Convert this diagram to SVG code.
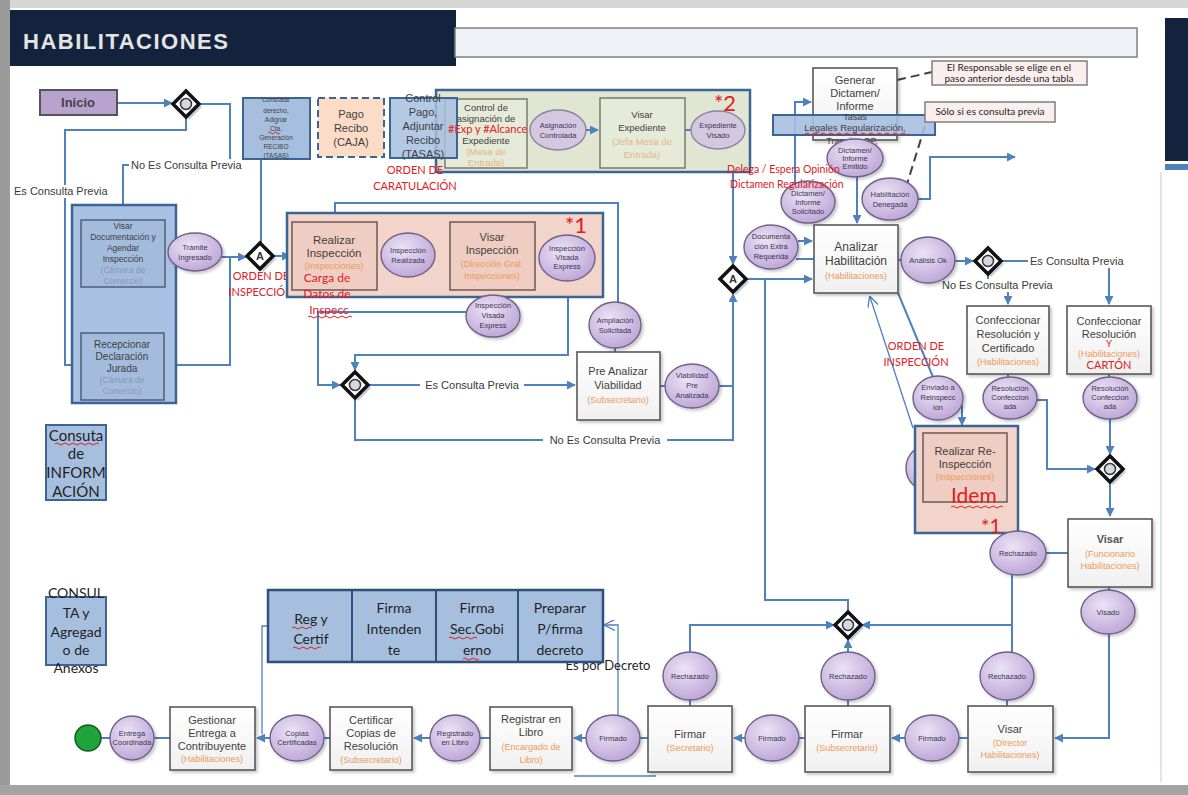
<svg xmlns="http://www.w3.org/2000/svg" width="1188" height="795" viewBox="0 0 1188 795">
<defs>
<style>
.task{fill:url(#gT);stroke:#595959;stroke-width:1.6}
.ev{fill:url(#gE);stroke:#6d6288;stroke-width:1.4}
.evf{fill:#d3c8df;stroke:#8c85a0;stroke-width:1.4}
.tt{font-family:"Liberation Sans",Arial,sans-serif;font-size:11px;fill:#3f3f3f;text-anchor:middle}
.ro{fill:#ec9a5a;font-size:9px}
.et{font-family:"Liberation Sans",Arial,sans-serif;font-size:7.5px;fill:#3a3456;text-anchor:middle}
.c{fill:none;stroke:#4f81bd;stroke-width:2}
.ca{fill:none;stroke:#4f81bd;stroke-width:2;marker-end:url(#ar)}
.thin{fill:none;stroke:#4f81bd;stroke-width:1.3}
.lbl{font-family:"Liberation Sans",Arial,sans-serif;font-size:11px;fill:#3a3a3a}
.red{font-family:Lato,"Open Sans",sans-serif;fill:#e0201e}
.bb{fill:#a7bfdf;stroke:#3b6595;stroke-width:2}
.cal{font-family:Lato,"Open Sans",sans-serif;fill:#1f1f1f;text-anchor:middle}
.dash{fill:none;stroke:#404040;stroke-width:2;stroke-dasharray:9 5}
.sq{fill:none;stroke:#e0201e;stroke-width:1}
</style>
<linearGradient id="gT" x1="0" y1="0" x2="0" y2="1"><stop offset="0" stop-color="#ffffff"/><stop offset="1" stop-color="#f0f0f0"/></linearGradient>
<radialGradient id="gE" cx="0.4" cy="0.35" r="0.75"><stop offset="0" stop-color="#ece3f5"/><stop offset="1" stop-color="#b99fd4"/></radialGradient>
<marker id="ar" viewBox="0 0 10 10" refX="9" refY="5" markerWidth="9" markerHeight="9" markerUnits="userSpaceOnUse" orient="auto"><path d="M0,0 L10,5 L0,10 z" fill="#4f81bd"/></marker>
<marker id="oa" viewBox="0 0 10 10" refX="9" refY="5" markerWidth="11" markerHeight="11" markerUnits="userSpaceOnUse" orient="auto"><path d="M0,0 L10,5 L0,10" fill="none" stroke="#4f81bd" stroke-width="1.2"/></marker>
<filter id="sh" x="-20%" y="-20%" width="150%" height="150%"><feDropShadow dx="2" dy="2" stdDeviation="1.5" flood-color="#000" flood-opacity="0.22"/></filter>
<g id="gwO"><path d="M3,-10 L16,3 L3,16 L-10,3z" fill="#c5ccd8"/><path d="M0,-13 L13,0 L0,13 L-13,0z" fill="#fff" stroke="#111" stroke-width="3.5"/><circle r="5.5" fill="#d3d9e4" stroke="#333" stroke-width="1.5"/></g>
<g id="gwA"><path d="M3,-10 L16,3 L3,16 L-10,3z" fill="#c5ccd8"/><path d="M0,-13 L13,0 L0,13 L-13,0z" fill="#fff" stroke="#111" stroke-width="3.5"/><text x="0" y="4" font-family="Liberation Sans,Arial,sans-serif" font-size="11" font-weight="bold" fill="#333" text-anchor="middle">A</text></g>
</defs>

<g id="background">
<rect width="1188" height="795" fill="#ffffff"/>
<rect x="0" y="0" width="1188" height="8" fill="#d6d6d6"/>
<rect x="0" y="0" width="10" height="795" fill="#9b9b9b"/>
<rect x="0" y="785" width="1188" height="10" fill="#a3a3a3"/>
<rect x="10" y="10" width="446" height="56" fill="#13233d"/>
<text x="23" y="49" font-family="Liberation Sans,Arial,sans-serif" font-size="22" font-weight="bold" fill="#e4e4e4" textLength="205">HABILITACIONES</text>
<rect x="455" y="28" width="682" height="29" fill="#eef1f6" stroke="#7f7f7f" stroke-width="1.5"/>
<rect x="1165" y="18" width="23" height="143" fill="#13233d"/>
<rect x="1165" y="164" width="23" height="6" fill="#4f81bd"/>
<line x1="1161" y1="172" x2="1161" y2="782" stroke="#dfe5ee" stroke-width="2"/>
</g>

<g id="connectors">
<path class="ca" d="M117,103 H172"/>
<path class="ca" d="M199,104 H230 V165 H123 V217"/>
<path class="ca" d="M186,117 V130 H65 V365 H79"/>
<path class="ca" d="M222,257 H246"/>
<path class="c" d="M165,365 H230 V257"/>
<path class="c" d="M165,252 H170"/>
<path class="ca" d="M273,256 H290"/>
<path class="c" d="M261,243 V137 H268"/>
<path class="ca" d="M435,255 H448"/>
<path class="c" d="M377,255 H382"/>
<path class="c" d="M535,257 H540"/>
<path class="ca" d="M568,281 V355 H355 V370"/>
<path class="ca" d="M466,312 H318 V385 H340"/>
<path class="ca" d="M369,385 H575"/>
<path class="ca" d="M355,399 V440 H733 V294"/>
<path class="c" d="M660,386 H666"/>
<path class="c" d="M719,386 H733"/>
<path class="c" d="M615,352 V347"/>
<path class="ca" d="M618,303 V203 H335 V220"/>
<path class="ca" d="M733,148 V264"/>
<path class="ca" d="M746,279 H812"/>
<path class="c" d="M848,612 V600 H765 V279"/>
<path class="ca" d="M798,241 H812"/>
<path class="c" d="M796,259 H814"/>
<path class="ca" d="M795,183 V102 H811"/>
<path class="ca" d="M857,176 V223"/>
<path class="ca" d="M918,199 H930 V157 H1015"/>
<path class="c" d="M898,260 H902"/>
<path class="ca" d="M955,261 H973"/>
<path class="ca" d="M1001,261 H1109 V304"/>
<path class="ca" d="M988,274 V286 H1008 V304"/>
<path class="c" d="M1008,374 V378"/>
<path class="c" d="M1109,374 V378"/>
<path class="ca" d="M1037,400 H1047 V469 H1095"/>
<path class="ca" d="M1110,419 V454"/>
<path class="ca" d="M1110,483 V516"/>
<path class="c" d="M1068,553 H1046"/>
<path class="c" d="M1012,575 V652"/>
<path class="c" d="M1109,587 V591"/>
<path class="ca" d="M1109,634 V738 H1055"/>
<path class="c" d="M968,738 H959"/>
<path class="ca" d="M905,738 H892"/>
<path class="c" d="M805,738 H799"/>
<path class="ca" d="M745,738 H734"/>
<path class="c" d="M648,738 H640"/>
<path class="ca" d="M586,738 H574"/>
<path class="c" d="M490,738 H480"/>
<path class="ca" d="M430,738 H414"/>
<path class="c" d="M330,738 H324"/>
<path class="ca" d="M270,738 H257"/>
<path class="c" d="M170,738 H154"/>
<path class="c" d="M110,738 H101"/>
<path class="ca" d="M1012,625 H862"/>
<path class="ca" d="M848,652 V640"/>
<path class="ca" d="M690,652 V625 H834"/>
<path class="c" d="M690,706 V700"/>
<path class="c" d="M848,706 V700"/>
<path class="c" d="M1007,706 V700"/>
<path class="thin" d="M618,716 V625 H605" marker-end="url(#oa)"/>
<path class="thin" d="M269,626 H262 V734"/>
<path class="thin" d="M574,776 H656"/>
<path class="c" d="M898,293 L933,377"/>
<path class="thin" d="M913,428 L870,297" marker-end="url(#oa)"/>
<path class="ca" d="M962,405 V425"/>
<path class="dash" d="M897,80 L932,72"/>
<path class="dash" d="M925,126 L907,184"/>
<rect x="129" y="159" width="128" height="13" fill="#fff"/>
<text class="lbl" x="131" y="169">No Es Consulta Previa</text>
<rect x="12" y="185" width="104" height="13" fill="#fff"/>
<text class="lbl" x="14" y="195">Es Consulta Previa</text>
<rect x="420" y="379" width="104" height="13" fill="#fff"/>
<text class="lbl" x="472" y="389" text-anchor="middle">Es Consulta Previa</text>
<rect x="543" y="434" width="124" height="13" fill="#fff"/>
<text class="lbl" x="605" y="444" text-anchor="middle">No Es Consulta Previa</text>
<rect x="1028" y="255" width="106" height="13" fill="#fff"/>
<text class="lbl" x="1030" y="265">Es Consulta Previa</text>
<rect x="940" y="279" width="124" height="13" fill="#fff"/>
<text class="lbl" x="942" y="289">No Es Consulta Previa</text>
<text class="cal" x="608" y="670" font-size="13">Es por Decreto</text>
</g>

<g id="n-inicio"><rect x="40" y="90" width="77" height="25" fill="#b9a2cf" stroke="#555" stroke-width="2"/><text x="78" y="107" font-family="Liberation Sans,Arial,sans-serif" font-size="13" font-weight="bold" fill="#444" text-anchor="middle">Inicio</text></g>
<g id="g-o1"><use href="#gwO" x="186" y="104"/></g>

<g id="lane-camara">
<rect x="72" y="205" width="104" height="198" fill="#a9c2e3" stroke="#3b6595" stroke-width="2.5"/>
<g id="n-visar-doc"><rect x="81" y="220" width="84" height="67" fill="#a3bcdd" stroke="#4f5f78" stroke-width="1.5"/>
<text class="tt" font-size="8.5" fill="#5d6e8c"><tspan x="123" y="229" font-size="8.5">Visar</tspan><tspan x="123" y="240" font-size="8.5">Documentación y</tspan><tspan x="123" y="251" font-size="8.5">Agendar</tspan><tspan x="123" y="262" font-size="8.5">Inspección</tspan><tspan x="123" y="273" font-size="8.5" fill="#8799b5">(Cámara de</tspan><tspan x="123" y="284" font-size="8.5" fill="#8799b5">Comercio)</tspan></text></g>
<g id="n-recepcionar"><rect x="81" y="333" width="83" height="67" fill="#a3bcdd" stroke="#4f5f78" stroke-width="1.5"/>
<text class="tt" fill="#5d6e8c"><tspan x="122" y="348" font-size="10">Recepcionar</tspan><tspan x="122" y="360" font-size="10">Declaración</tspan><tspan x="122" y="372" font-size="10">Jurada</tspan><tspan x="122" y="383" font-size="8.5" fill="#8799b5">(Cámara de</tspan><tspan x="122" y="394" font-size="8.5" fill="#8799b5">Comercio)</tspan></text></g>
</g>

<g id="n-tramite"><ellipse class="ev" cx="195" cy="252" rx="27" ry="19" filter="url(#sh)"/><text class="et"><tspan x="195" y="250">Trámite</tspan><tspan x="195" y="260">Ingresado</tspan></text></g>
<g id="g-a1"><use href="#gwA" x="260" y="256"/>
<text class="red" font-size="11" text-anchor="middle"><tspan x="261" y="280">ORDEN DE</tspan><tspan x="261" y="296">INSPECCIÓN</tspan></text></g>

<g id="n-constatar"><rect class="bb" x="243" y="98" width="67" height="61"/>
<text class="tt" font-size="6.5" fill="#222"><tspan x="276" y="102" font-size="6.5">Constatar</tspan><tspan x="276" y="113" font-size="6.5">derecho,</tspan><tspan x="276" y="122" font-size="6.5">Adignar</tspan><tspan x="276" y="131" font-size="6.5">Cta,</tspan><tspan x="276" y="140" font-size="6.5">Generación</tspan><tspan x="276" y="149" font-size="6.5">RECIBO</tspan><tspan x="276" y="158" font-size="6.5">(TASAS)</tspan></text>
<path class="sq" d="M268,133 q1.5,-2 3,0 t3,0 t3,0 t3,0"/></g>
<g id="n-pago"><rect x="318" y="98" width="66" height="59" fill="#fcdcc6" stroke="#3b6595" stroke-width="2" stroke-dasharray="7 4"/>
<text class="tt" font-size="10.5" fill="#333"><tspan x="351" y="118">Pago</tspan><tspan x="351" y="132">Recibo</tspan><tspan x="351" y="146">(CAJA)</tspan></text></g>

<g id="lane-mesa">
<rect x="436" y="90" width="314" height="82" fill="#e1e6d2" stroke="#3b6595" stroke-width="2.5"/>
<g id="n-control-asig"><rect x="445" y="99" width="82" height="69" fill="#e6ead8" stroke="#7a7a6a" stroke-width="1.5"/>
<text class="tt" font-size="9.5" fill="#888"><tspan x="486" y="111" font-size="9.5">Control de</tspan><tspan x="486" y="122" font-size="9.5">asignación de</tspan><tspan x="486" y="144" font-size="9.5">Expediente</tspan><tspan x="486" y="155" font-size="9.5" fill="#e3b88a">(Mesa de</tspan><tspan x="486" y="166" font-size="9.5" fill="#e3b88a">Entrada)</tspan></text></g>
<g id="n-asig-ctrl"><ellipse class="evf" cx="558" cy="130" rx="28" ry="20"/><text class="et" fill="#666"><tspan x="558" y="128">Asignación</tspan><tspan x="558" y="138">Controlada</tspan></text></g>
<path class="ca" d="M586,130 H598"/>
<g id="n-visar-exp"><rect x="600" y="98" width="85" height="70" fill="#e6ead8" stroke="#7a7a6a" stroke-width="1.5"/>
<text class="tt" font-size="9.5" fill="#888"><tspan x="642" y="118" font-size="9.5">Visar</tspan><tspan x="642" y="131" font-size="9.5">Expediente</tspan><tspan x="642" y="145" font-size="9.5" fill="#e3b88a">(Jefa Mesa de</tspan><tspan x="642" y="158" font-size="9.5" fill="#e3b88a">Entrada)</tspan></text></g>
<path class="c" d="M685,130 H692"/>
<g id="n-exp-visado"><ellipse class="evf" cx="718" cy="130" rx="27" ry="19"/><text class="et" fill="#666"><tspan x="718" y="128">Expediente</tspan><tspan x="718" y="138">Visado</tspan></text></g>
<text class="red" x="714" y="111" font-size="22">*2</text>
</g>
<g id="n-control-pago"><rect class="bb" x="390" y="98" width="67" height="60" fill-opacity="0.85"/>
<text class="tt" font-size="10.5" fill="#222"><tspan x="423" y="102">Control</tspan><tspan x="423" y="116">Pago,</tspan><tspan x="423" y="130">Adjuntar</tspan><tspan x="423" y="144">Recibo</tspan><tspan x="423" y="158">(TASAS)</tspan></text></g>
<text class="red" x="448" y="133" font-size="11">#Exp y #Alcance</text>
<text class="red" font-size="11" text-anchor="middle"><tspan x="415" y="174">ORDEN DE</tspan><tspan x="415" y="190">CARATULACIÓN</tspan></text>

<g id="lane-inspeccion">
<rect x="287" y="213" width="316" height="84" fill="#f2d4ca" stroke="#3b6595" stroke-width="2.5"/>
<g id="n-realizar-insp"><rect x="292" y="222" width="85" height="68" fill="#f0cdc2" stroke="#6a5a5a" stroke-width="1.5"/>
<text class="tt"><tspan x="334" y="244" font-size="11.5">Realizar</tspan><tspan x="334" y="257" font-size="11.5">Inspección</tspan><tspan x="334" y="269" class="ro" fill="#eba77a">(Inspecciones)</tspan></text></g>
<g id="n-insp-realizada"><ellipse class="ev" cx="408" cy="255" rx="27" ry="22"/><text class="et"><tspan x="408" y="253">Inspección</tspan><tspan x="408" y="263">Realizada</tspan></text></g>
<g id="n-visar-insp"><rect x="450" y="222" width="85" height="68" fill="#f0cdc2" stroke="#6a5a5a" stroke-width="1.5"/>
<text class="tt"><tspan x="492" y="241">Visar</tspan><tspan x="492" y="254">Inspección</tspan><tspan x="492" y="267" class="ro" fill="#eb9a5e">(Dirección Gral.</tspan><tspan x="492" y="279" class="ro" fill="#eb9a5e">Inspecciones)</tspan></text></g>
<g id="n-insp-visada-1"><ellipse class="ev" cx="567" cy="258" rx="28" ry="23"/><text class="et"><tspan x="567" y="251">Inspección</tspan><tspan x="567" y="260">Visada</tspan><tspan x="567" y="269">Express</tspan></text></g>
<text class="red" x="565" y="233" font-size="22">*1</text>
</g>
<g id="n-insp-visada-2"><ellipse class="ev" cx="493" cy="316" rx="27" ry="21" filter="url(#sh)"/><text class="et"><tspan x="493" y="308">Inspección</tspan><tspan x="493" y="318">Visada</tspan><tspan x="493" y="328">Express</tspan></text></g>
<text class="red" font-size="12" text-anchor="middle"><tspan x="327" y="282">Carga de</tspan><tspan x="327" y="298">Datos de</tspan><tspan x="329" y="314">Inspecc</tspan></text>
<path class="sq" d="M308,317 q2,-2 4,0 t4,0 t4,0 t4,0 t4,0 t4,0 t4,0 t4,0 t4,0 t4,0 t4,0"/>

<g id="g-o2"><use href="#gwO" x="355" y="385"/></g>
<g id="n-pre-analizar"><rect class="task" x="577" y="352" width="83" height="68" filter="url(#sh)"/>
<text class="tt"><tspan x="618" y="375">Pre Analizar</tspan><tspan x="618" y="389">Viabilidad</tspan><tspan x="618" y="403" class="ro">(Subsecretario)</tspan></text></g>
<g id="n-ampliacion"><ellipse class="ev" cx="615" cy="325" rx="26" ry="23" filter="url(#sh)"/><text class="et"><tspan x="615" y="323">Ampliación</tspan><tspan x="615" y="333">Solicitada</tspan></text></g>
<g id="n-viabilidad"><ellipse class="ev" cx="692" cy="386" rx="27" ry="22" filter="url(#sh)"/><text class="et"><tspan x="692" y="378">Viabilidad</tspan><tspan x="692" y="388">Pre</tspan><tspan x="692" y="398">Analizada</tspan></text></g>
<g id="g-a2"><use href="#gwA" x="733" y="279"/></g>

<g id="n-generar"><rect class="task" x="813" y="68" width="84" height="72" filter="url(#sh)"/>
<text class="tt"><tspan x="855" y="84">Generar</tspan><tspan x="855" y="97">Dictamen/</tspan><tspan x="855" y="110">Informe</tspan></text></g>
<g id="n-tasas"><rect class="bb" x="773" y="115" width="162" height="20" fill-opacity="0.9"/>
<text class="tt" font-size="9.5" fill="#222"><tspan x="855" y="120" font-size="9">Tasas</tspan><tspan x="855" y="131" font-size="9.5">Legales Regularización,</tspan><tspan x="852" y="144" font-size="9">Transito, OP,</tspan></text>
<path class="sq" d="M805,134 q2,-2 4,0 t4,0 t4,0 t4,0 t4,0 t4,0 t4,0 t4,0 t4,0 t4,0 t4,0 t4,0 t4,0 t4,0 t4,0 t4,0 t4,0 t4,0 t4,0 t4,0 t4,0 t4,0 t4,0 t4,0 t4,0 t4,0"/></g>
<g id="n-nota-resp"><rect x="932" y="61" width="155" height="24" fill="#fbeeee" stroke="#7f7f7f" stroke-width="1.5"/>
<text class="cal" font-size="10"><tspan x="1009" y="71">El Responsable se elige en el</tspan><tspan x="1009" y="82">paso anterior desde una tabla</tspan></text></g>
<g id="n-nota-consulta"><rect x="925" y="102" width="130" height="20" fill="#fbeeee" stroke="#7f7f7f" stroke-width="1.5"/>
<text class="cal" x="990" y="115" font-size="10">Sólo si es consulta previa</text></g>
<g id="n-dictamen-emitido"><ellipse class="ev" cx="855" cy="158" rx="28" ry="19" filter="url(#sh)"/><text class="et"><tspan x="855" y="153">Dictamen/</tspan><tspan x="855" y="161">Informe</tspan><tspan x="855" y="169">Emitido</tspan></text></g>
<g id="n-informe-solicitado"><ellipse class="ev" cx="808" cy="202" rx="27" ry="21" filter="url(#sh)"/><text class="et"><tspan x="808" y="196">Dictamen/</tspan><tspan x="808" y="205">Informe</tspan><tspan x="808" y="214">Solicitado</tspan></text></g>
<g id="n-hab-denegada"><ellipse class="ev" cx="890" cy="199" rx="28" ry="21" filter="url(#sh)"/><text class="et"><tspan x="890" y="197">Habilitación</tspan><tspan x="890" y="207">Denegada</tspan></text></g>
<text class="red" font-size="10.5"><tspan x="727" y="173">Delega / Espera Opinión</tspan><tspan x="730" y="188">Dictamen Regularización</tspan></text>

<g id="n-doc-extra"><ellipse class="ev" cx="771" cy="247" rx="27" ry="22" filter="url(#sh)"/><text class="et"><tspan x="771" y="239">Documenta</tspan><tspan x="771" y="249">ción Extra</tspan><tspan x="771" y="259">Requerida</tspan></text></g>
<g id="n-analizar"><rect class="task" x="814" y="225" width="84" height="68" filter="url(#sh)"/>
<text class="tt"><tspan x="856" y="251" font-size="12">Analizar</tspan><tspan x="856" y="265" font-size="12">Habilitación</tspan><tspan x="856" y="279" class="ro">(Habilitaciones)</tspan></text></g>
<g id="n-analisis-ok"><ellipse class="ev" cx="928" cy="260" rx="27" ry="23" filter="url(#sh)"/><text class="et" x="928" y="263">Análisis Ok</text></g>
<g id="g-o3"><use href="#gwO" x="988" y="261"/></g>

<g id="n-conf-res-cert"><rect class="task" x="967" y="306" width="82" height="68" filter="url(#sh)"/>
<text class="tt"><tspan x="1008" y="324">Confeccionar</tspan><tspan x="1008" y="338">Resolución y</tspan><tspan x="1008" y="352">Certificado</tspan><tspan x="1008" y="365" class="ro">(Habilitaciones)</tspan></text></g>
<g id="n-conf-res"><rect class="task" x="1067" y="306" width="84" height="68" filter="url(#sh)"/>
<text class="tt"><tspan x="1109" y="325">Confeccionar</tspan><tspan x="1109" y="338">Resolución</tspan><tspan x="1109" y="357" class="ro">(Habilitaciones)</tspan></text>
<text class="red" text-anchor="middle"><tspan x="1109" y="347" font-size="9.5">Y</tspan><tspan x="1109" y="369" font-size="11">CARTÓN</tspan></text></g>
<g id="n-res-conf-1"><ellipse class="ev" cx="1010" cy="398" rx="27" ry="21" filter="url(#sh)"/><text class="et"><tspan x="1010" y="391">Resolución</tspan><tspan x="1010" y="400">Confeccion</tspan><tspan x="1010" y="409">ada</tspan></text></g>
<g id="n-res-conf-2"><ellipse class="ev" cx="1110" cy="398" rx="27" ry="21" filter="url(#sh)"/><text class="et"><tspan x="1110" y="391">Resolución</tspan><tspan x="1110" y="400">Confeccion</tspan><tspan x="1110" y="409">ada</tspan></text></g>
<g id="g-o4"><use href="#gwO" x="1110" y="469"/></g>

<g id="n-enviado"><ellipse class="ev" cx="938" cy="398" rx="25" ry="22" filter="url(#sh)"/><text class="et"><tspan x="938" y="390">Enviado a</tspan><tspan x="938" y="400">Reinspecc</tspan><tspan x="938" y="410">ión</tspan></text></g>
<text class="red" font-size="11" text-anchor="middle"><tspan x="916" y="350">ORDEN DE</tspan><tspan x="916" y="366">INSPECCIÓN</tspan></text>
<g id="n-hidden-ev"><ellipse class="ev" cx="926" cy="468" rx="20" ry="22"/></g>
<g id="lane-reinspeccion">
<rect x="915" y="426" width="103" height="107" fill="#f2d4ca" stroke="#3b6595" stroke-width="2.5"/>
<g id="n-realizar-reinsp"><rect x="923" y="433" width="84" height="69" fill="#f0cdc2" stroke="#6a5a5a" stroke-width="1.5"/>
<text class="tt" fill="#666"><tspan x="965" y="455">Realizar Re-</tspan><tspan x="965" y="468">Inspección</tspan><tspan x="965" y="480" class="ro" fill="#eba77a">(Inspecciones)</tspan></text></g>
<text class="red" x="951" y="503" font-size="21">Idem</text>
<path class="sq" d="M951,507 q2,-2 4,0 t4,0 t4,0 t4,0 t4,0 t4,0 t4,0 t4,0 t4,0 t4,0 t4,0 t4,0 t4,0"/>
<text class="red" x="981" y="533" font-size="20">*1</text>
</g>

<g id="n-rechazado-1"><ellipse class="ev" cx="1018" cy="553" rx="28" ry="22" filter="url(#sh)"/><text class="et" x="1018" y="556">Rechazado</text></g>
<g id="n-visar-func"><rect class="task" x="1068" y="519" width="84" height="68" filter="url(#sh)"/>
<text class="tt"><tspan x="1110" y="543" font-weight="bold" fill="#555">Visar</tspan><tspan x="1110" y="557" class="ro">(Funcionario</tspan><tspan x="1110" y="569" class="ro">Habilitaciones)</tspan></text></g>
<g id="n-visado"><ellipse class="ev" cx="1108" cy="612" rx="27" ry="22" filter="url(#sh)"/><text class="et" x="1108" y="615">Visado</text></g>
<g id="g-o5"><use href="#gwO" x="848" y="625"/></g>

<g id="n-rechazado-2"><ellipse class="ev" cx="690" cy="676" rx="27" ry="24" filter="url(#sh)"/><text class="et" x="690" y="679">Rechazado</text></g>
<g id="n-rechazado-3"><ellipse class="ev" cx="848" cy="676" rx="27" ry="24" filter="url(#sh)"/><text class="et" x="848" y="679">Rechazado</text></g>
<g id="n-rechazado-4"><ellipse class="ev" cx="1007" cy="676" rx="27" ry="24" filter="url(#sh)"/><text class="et" x="1007" y="679">Rechazado</text></g>

<g id="n-visar-dir"><rect class="task" x="968" y="706" width="85" height="66" filter="url(#sh)"/>
<text class="tt"><tspan x="1010" y="733">Visar</tspan><tspan x="1010" y="746" class="ro">(Director</tspan><tspan x="1010" y="758" class="ro">Habilitaciones)</tspan></text></g>
<g id="n-firmado-3"><ellipse class="ev" cx="932" cy="738" rx="27" ry="23" filter="url(#sh)"/><text class="et" x="932" y="741">Firmado</text></g>
<g id="n-firmar-sub"><rect class="task" x="805" y="706" width="85" height="66" filter="url(#sh)"/>
<text class="tt"><tspan x="847" y="738">Firmar</tspan><tspan x="847" y="751" class="ro">(Subsecretario)</tspan></text></g>
<g id="n-firmado-2"><ellipse class="ev" cx="772" cy="738" rx="27" ry="23" filter="url(#sh)"/><text class="et" x="772" y="741">Firmado</text></g>
<g id="n-firmar-sec"><rect class="task" x="648" y="706" width="84" height="66" filter="url(#sh)"/>
<text class="tt"><tspan x="690" y="738">Firmar</tspan><tspan x="690" y="751" class="ro">(Secretario)</tspan></text></g>
<g id="n-firmado-1"><ellipse class="ev" cx="613" cy="738" rx="27" ry="23" filter="url(#sh)"/><text class="et" x="613" y="741">Firmado</text></g>
<g id="n-registrar"><rect class="task" x="490" y="707" width="82" height="63" filter="url(#sh)"/>
<text class="tt"><tspan x="531" y="723">Registrar en</tspan><tspan x="531" y="736">Libro</tspan><tspan x="531" y="750" class="ro">(Encargado de</tspan><tspan x="531" y="763" class="ro">Libro)</tspan></text></g>
<g id="n-registrado"><ellipse class="ev" cx="455" cy="738" rx="25" ry="23" filter="url(#sh)"/><text class="et"><tspan x="455" y="736">Registrado</tspan><tspan x="455" y="745">en Libro</tspan></text></g>
<g id="n-certificar"><rect class="task" x="330" y="707" width="82" height="63" filter="url(#sh)"/>
<text class="tt"><tspan x="371" y="724">Certificar</tspan><tspan x="371" y="737">Copias de</tspan><tspan x="371" y="750">Resolución</tspan><tspan x="371" y="763" class="ro">(Subsecretario)</tspan></text></g>
<g id="n-copias"><ellipse class="ev" cx="297" cy="738" rx="27" ry="23" filter="url(#sh)"/><text class="et"><tspan x="297" y="736">Copias</tspan><tspan x="297" y="745">Certificadas</tspan></text></g>
<g id="n-gestionar"><rect class="task" x="170" y="707" width="85" height="63" filter="url(#sh)"/>
<text class="tt"><tspan x="212" y="724">Gestionar</tspan><tspan x="212" y="737">Entrega a</tspan><tspan x="212" y="750">Contribuyente</tspan><tspan x="212" y="762" class="ro">(Habilitaciones)</tspan></text></g>
<g id="n-entrega"><ellipse class="ev" cx="132" cy="738" rx="22" ry="22" filter="url(#sh)"/><text class="et"><tspan x="132" y="736">Entrega</tspan><tspan x="132" y="745">Coordinada</tspan></text></g>
<g id="n-fin"><circle cx="88" cy="738" r="13" fill="#1fa33a" stroke="#145c22" stroke-width="1.5"/></g>

<g id="n-consulta-info"><rect class="bb" x="46" y="425" width="60" height="75"/>
<text class="cal" font-size="15"><tspan x="76" y="441">Consuta</tspan><tspan x="76" y="459">de</tspan><tspan x="76" y="478">INFORM</tspan><tspan x="76" y="497">ACIÓN</tspan></text>
<path class="sq" d="M55,444 q2,-2 4,0 t4,0 t4,0 t4,0 t4,0 t4,0 t4,0 t4,0 t4,0 t4,0 t4,0"/></g>
<g id="n-consulta-anexos"><rect class="bb" x="46" y="597" width="60" height="68"/>
<text class="cal" font-size="14"><tspan x="76" y="598">CONSUL</tspan><tspan x="76" y="618">TA y</tspan><tspan x="76" y="637">Agregad</tspan><tspan x="76" y="655">o de</tspan><tspan x="76" y="673">Anexos</tspan></text></g>

<g id="n-decreto">
<rect x="268" y="590" width="335" height="72" fill="#a7bfdf" stroke="#2f4f7f" stroke-width="2.5"/>
<line x1="352" y1="590" x2="352" y2="662" stroke="#2f4f7f" stroke-width="2"/>
<line x1="436" y1="590" x2="436" y2="662" stroke="#2f4f7f" stroke-width="2"/>
<line x1="518" y1="590" x2="518" y2="662" stroke="#2f4f7f" stroke-width="2"/>
<text class="cal" font-size="14"><tspan x="311" y="624">Reg y</tspan><tspan x="311" y="644">Certif</tspan></text>
<path class="sq" d="M292,628 q2,-2 4,0 t4,0 t4,0 t4,0 t4,0"/>
<path class="sq" d="M293,648 q2,-2 4,0 t4,0 t4,0 t4,0 t4,0 t4,0 t4,0"/>
<text class="cal" font-size="14"><tspan x="394" y="613">Firma</tspan><tspan x="394" y="634">Intenden</tspan><tspan x="394" y="655">te</tspan></text>
<text class="cal" font-size="14"><tspan x="477" y="613">Firma</tspan><tspan x="477" y="634">Sec.Gobi</tspan><tspan x="477" y="655">erno</tspan></text>
<path class="sq" d="M449,638 q2,-2 4,0 t4,0 t4,0 t4,0 t4,0 t4,0 t4,0"/>
<path class="sq" d="M463,659 q2,-2 4,0 t4,0 t4,0 t4,0"/>
<text class="cal" font-size="14"><tspan x="560" y="613">Preparar</tspan><tspan x="560" y="634">P/firma</tspan><tspan x="560" y="655">decreto</tspan></text>
</g>
</svg>
